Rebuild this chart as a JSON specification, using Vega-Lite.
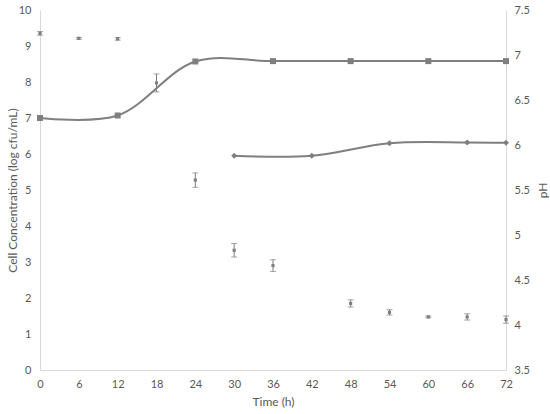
{
  "$schema": "https://vega.github.io/schema/vega-lite/v6.json",
  "width": 466,
  "height": 360,
  "autosize": "none",
  "padding": {"left": 40, "top": 10, "right": 44, "bottom": 44},
  "background": "white",
  "config": {
    "view": {"stroke": null},
    "font": "Lato",
    "axis": {
      "grid": false,
      "ticks": false,
      "domainColor": "#d9d9d9",
      "domainWidth": 1,
      "labelColor": "#595959",
      "labelFont": "Lato",
      "labelFontSize": 11,
      "labelOverlap": false,
      "labelFlush": false,
      "titleColor": "#595959",
      "titleFont": "Lato",
      "titleFontSize": 12,
      "titleFontWeight": "normal"
    }
  },
  "datasets": {
    "cells": [
      {"time": 0, "value": 7.0, "series": "Cells A"},
      {"time": 12, "value": 7.07, "series": "Cells A"},
      {"time": 24, "value": 8.57, "series": "Cells A"},
      {"time": 36, "value": 8.58, "series": "Cells A"},
      {"time": 48, "value": 8.58, "series": "Cells A"},
      {"time": 60, "value": 8.58, "series": "Cells A"},
      {"time": 72, "value": 8.58, "series": "Cells A"},
      {"time": 30, "value": 5.95, "series": "Cells B"},
      {"time": 42, "value": 5.95, "series": "Cells B"},
      {"time": 54, "value": 6.3, "series": "Cells B"},
      {"time": 66, "value": 6.32, "series": "Cells B"},
      {"time": 72, "value": 6.31, "series": "Cells B"}
    ],
    "ph": [
      {"time": 0, "pH": 7.24, "sd": 0.02},
      {"time": 6, "pH": 7.185, "sd": 0.01},
      {"time": 12, "pH": 7.18, "sd": 0.015},
      {"time": 18, "pH": 6.69, "sd": 0.1},
      {"time": 24, "pH": 5.61, "sd": 0.08},
      {"time": 30, "pH": 4.83, "sd": 0.075},
      {"time": 36, "pH": 4.66, "sd": 0.065},
      {"time": 48, "pH": 4.24, "sd": 0.04},
      {"time": 54, "pH": 4.14, "sd": 0.03},
      {"time": 60, "pH": 4.09, "sd": 0.01},
      {"time": 66, "pH": 4.09, "sd": 0.035},
      {"time": 72, "pH": 4.06, "sd": 0.04}
    ]
  },
  "encoding": {
    "x": {
      "field": "time", "type": "quantitative",
      "scale": {"domain": [0, 72], "nice": false},
      "axis": {"title": "Time (h)", "values": [0, 6, 12, 18, 24, 30, 36, 42, 48, 54, 60, 66, 72], "labelPadding": 8, "titleX": 233, "titleY": 31, "titleBaseline": "middle", "titleAlign": "center"}
    }
  },
  "layer": [
    {
      "data": {"name": "cells"},
      "encoding": {
        "y": {
          "field": "value", "type": "quantitative",
          "scale": {"domain": [0, 10], "nice": false},
          "axis": {"title": "Cell Concentration (log cfu/mL)", "orient": "left", "values": [0, 1, 2, 3, 4, 5, 6, 7, 8, 9, 10], "labelPadding": 9, "titleX": -28, "titleY": 180, "titleAngle": -90, "titleBaseline": "middle", "titleAlign": "center"}
        }
      },
      "layer": [
        {
          "mark": {"type": "line", "interpolate": "catmull-rom", "color": "#7f7f7f", "strokeWidth": 2},
          "encoding": {"detail": {"field": "series"}}
        },
        {
          "mark": {"type": "point", "filled": true, "color": "#7f7f7f", "opacity": 1},
          "encoding": {
            "shape": {"field": "series", "type": "nominal", "scale": {"domain": ["Cells A", "Cells B"], "range": ["square", "diamond"]}, "legend": null},
            "size": {"value": 36}
          }
        }
      ]
    },
    {
      "data": {"name": "ph"},
      "layer": [
        {
          "mark": {"type": "errorbar", "ticks": {"size": 6, "color": "#7f7f7f"}, "rule": {"color": "#7f7f7f"}, "color": "#7f7f7f"},
          "encoding": {
            "y": {"field": "pH", "type": "quantitative", "scale": {"domain": [3.5, 7.5], "nice": false},
              "axis": {"title": "pH", "orient": "right", "format": "~g", "values": [3.5, 4, 4.5, 5, 5.5, 6, 6.5, 7, 7.5], "labelPadding": 8, "titleX": 36, "titleY": 180, "titleAngle": -90, "titleBaseline": "middle", "titleAlign": "center"}},
            "yError": {"field": "sd"}
          }
        },
        {
          "mark": {"type": "point", "shape": "square", "filled": true, "color": "#7f7f7f", "opacity": 1, "size": 10},
          "encoding": {
            "y": {"field": "pH", "type": "quantitative"}
          }
        }
      ]
    }
  ],
  "resolve": {"scale": {"y": "independent"}, "axis": {"y": "independent"}}
}
